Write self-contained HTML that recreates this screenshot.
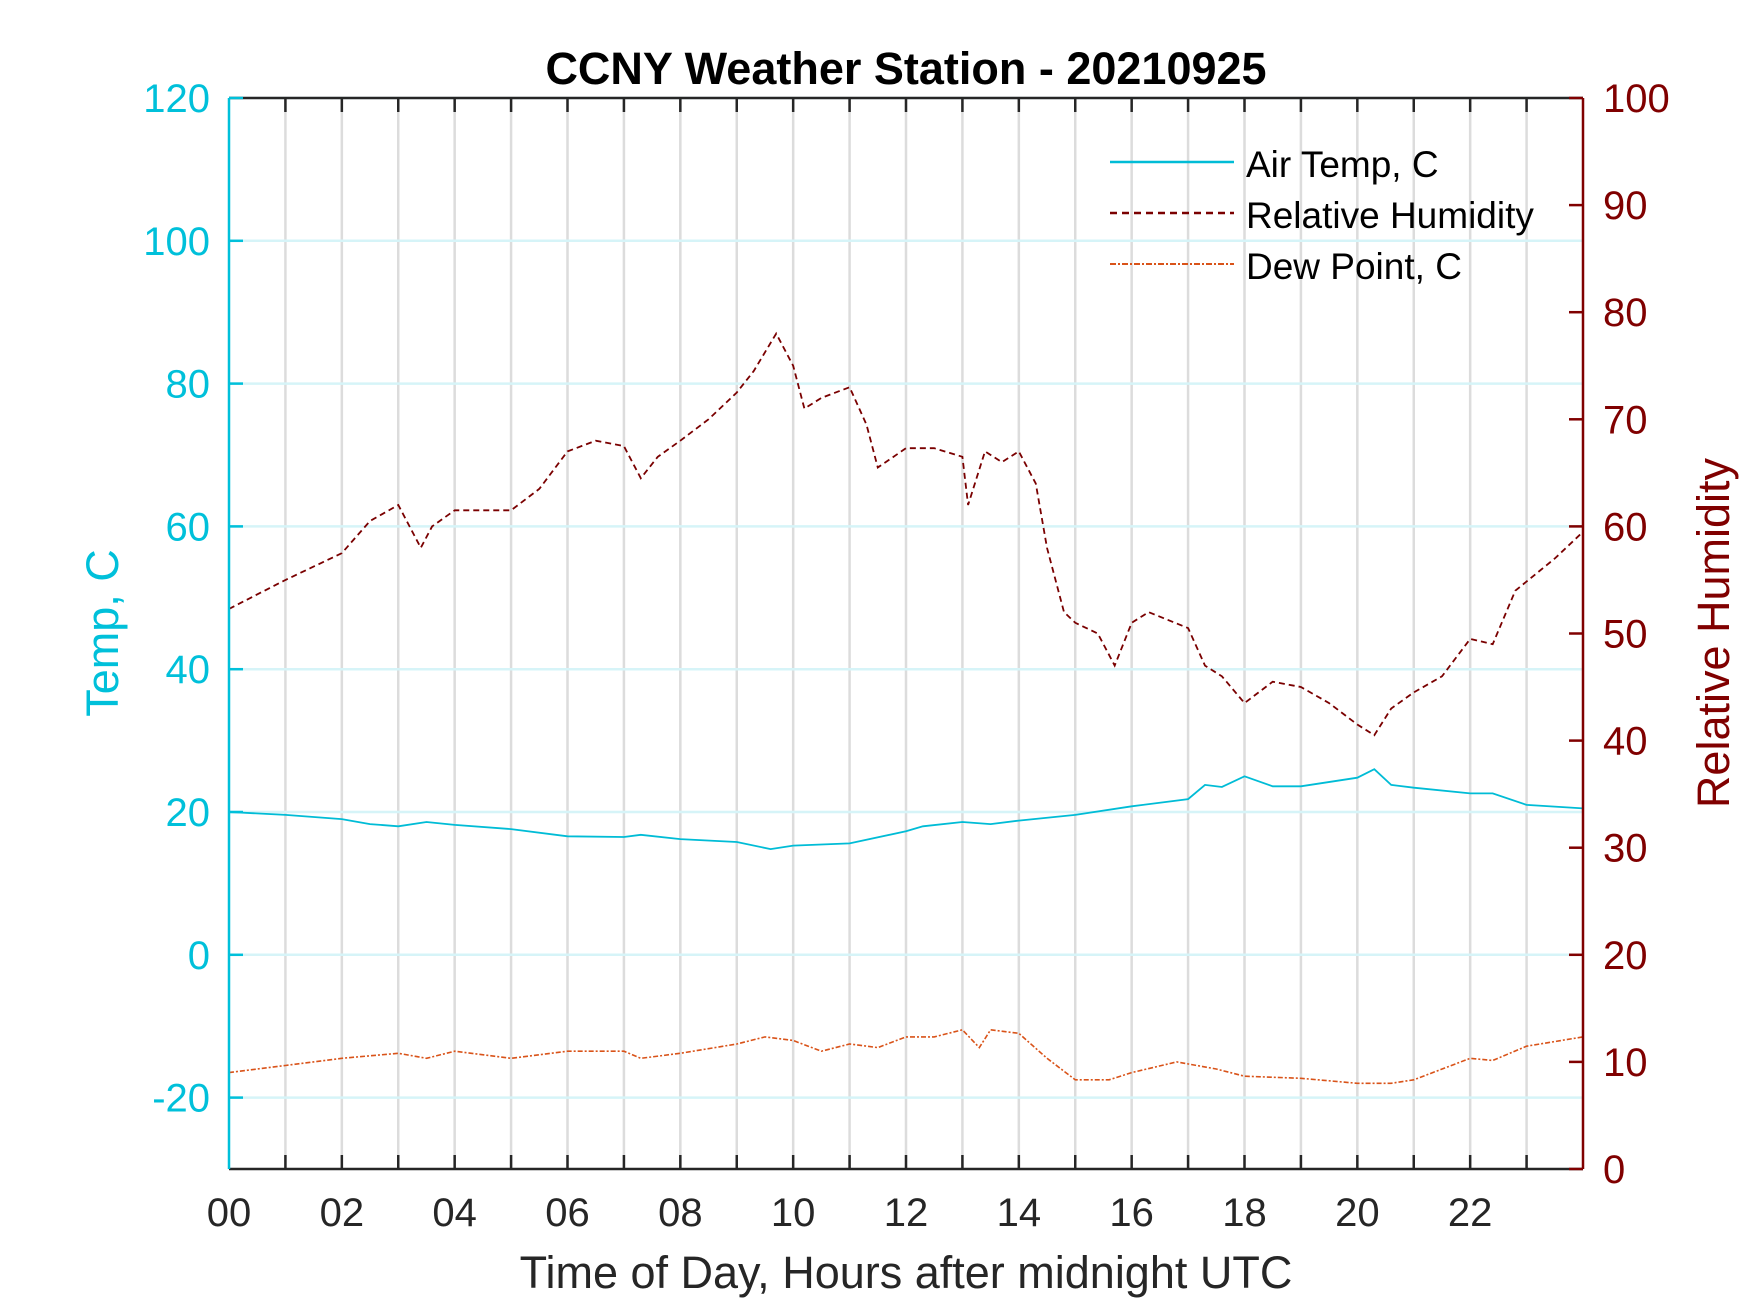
<!DOCTYPE html>
<html><head><meta charset="utf-8"><style>
body{margin:0;background:#fff;}
svg{display:block;font-family:"Liberation Sans",Arial,sans-serif;}
</style></head><body>
<svg id="chart" width="1750" height="1313" viewBox="0 0 1750 1313" xmlns="http://www.w3.org/2000/svg">
<rect width="1750" height="1313" fill="#fff"/>
<g id="grid"></g>
<g id="series"></g>
<g id="axes"></g>
<text x="906" y="84" text-anchor="middle" font-size="45" font-weight="bold" fill="#000">CCNY Weather Station - 20210925</text>
<text x="906" y="1288" text-anchor="middle" font-size="45" fill="#262626">Time of Day, Hours after midnight UTC</text>
<text transform="translate(118,633) rotate(-90)" text-anchor="middle" font-size="45" fill="#00c0da">Temp, C</text>
<text transform="translate(1729,633) rotate(-90)" text-anchor="middle" font-size="45" fill="#800000">Relative Humidity</text>
<g>
<line x1="1110" y1="162" x2="1234" y2="162" stroke="#00bcd6" stroke-width="2.5"/>
<text x="1246" y="177" font-size="37" fill="#000">Air Temp, C</text>
<line x1="1110" y1="213" x2="1234" y2="213" stroke="#7a0000" stroke-width="2.5" stroke-dasharray="7,5"/>
<text x="1246" y="228" font-size="37" fill="#000">Relative Humidity</text>
<line x1="1110" y1="264" x2="1234" y2="264" stroke="#d95319" stroke-width="2" stroke-dasharray="6,2,2,2"/>
<text x="1246" y="279" font-size="37" fill="#000">Dew Point, C</text>
</g>
</svg>
<script>
const tempHours=[0,1,2,2.5,3,3.5,4,5,6,7,7.3,8,9,9.6,10,11,12,12.3,13,13.5,14,15,16,17,17.3,17.6,18,18.5,19,20,20.3,20.6,21,22,22.4,23,24];
const tempValues=[20,19.6,19,18.3,18,18.6,18.2,17.6,16.6,16.5,16.8,16.2,15.8,14.8,15.3,15.6,17.3,18,18.6,18.3,18.8,19.6,20.8,21.8,23.8,23.5,25,23.6,23.6,24.8,26,23.8,23.4,22.6,22.6,21,20.5];
const dewHours=[0,1,2,3,3.5,4,5,6,7,7.3,8,9,9.5,10,10.5,11,11.5,12,12.5,13,13.3,13.5,14,14.5,15,15.6,16,16.8,17.5,18,19,20,20.6,21,22,22.4,23,24];
const dewValues=[-16.5,-15.5,-14.5,-13.8,-14.5,-13.5,-14.5,-13.5,-13.5,-14.5,-13.8,-12.5,-11.5,-12,-13.5,-12.5,-13,-11.5,-11.5,-10.5,-13,-10.5,-11,-14.5,-17.5,-17.5,-16.5,-15,-16,-17,-17.3,-18,-18,-17.5,-14.5,-14.8,-12.8,-11.5];
const rhHours=[0,1,2,2.5,3,3.4,3.6,4,5,5.5,6,6.5,7,7.3,7.6,8,8.5,9,9.3,9.7,10,10.2,10.5,11,11.3,11.5,12,12.5,13,13.1,13.4,13.7,14,14.3,14.5,14.8,15,15.4,15.7,16,16.3,17,17.3,17.6,18,18.5,19,19.5,20,20.3,20.6,21,21.5,22,22.4,22.8,23.5,24];
const rhValues=[52.3,55,57.5,60.5,62,58,60,61.5,61.5,63.5,67,68,67.5,64.5,66.5,68,70,72.5,74.5,78,75,71,72,73,69.5,65.5,67.3,67.3,66.5,62,67,66,67,64,58,52,51,50,47,51,52,50.5,47,46,43.5,45.5,45,43.5,41.5,40.5,43,44.5,46,49.5,49,54,57,59.5];
const xTickLabels=["00","02","04","06","08","10","12","14","16","18","20","22"];
const leftTicks=[120,100,80,60,40,20,0,-20];
const rightTicks=[100,90,80,70,60,50,40,30,20,10,0];

const L=229,R=1583,T=98,B=1169,NS="http://www.w3.org/2000/svg";
const xs=h=>L+(R-L)*h/24;
const yT=v=>B-(B-T)*(v+30)/150;
const yR=v=>B-(B-T)*v/100;
function mk(tag,attrs,parent){const e=document.createElementNS(NS,tag);for(const k in attrs)e.setAttribute(k,attrs[k]);parent.appendChild(e);return e;}
const grid=document.getElementById('grid'),series=document.getElementById('series'),axes=document.getElementById('axes');
for(let h=1;h<24;h++){const l=mk('line',{x1:xs(h),x2:xs(h),y1:T,y2:B,stroke:'#dcdcdc','stroke-width':2.5},grid);

}
leftTicks.forEach(v=>{const l=mk('line',{x1:L,x2:R,y1:yT(v),y2:yT(v),stroke:'#d6f4f8','stroke-width':2.5},grid);

});
function path(hs,vs,fy,attrs,name){const d=hs.map((h,i)=>(i?'L':'M')+xs(h).toFixed(1)+','+fy(vs[i]).toFixed(1)).join('');
const p=mk('path',Object.assign({d:d,fill:'none'},attrs),series);

}
path(tempHours,tempValues,yT,{stroke:'#00bcd6','stroke-width':1.8},'air-temp-line');
path(rhHours,rhValues,yR,{stroke:'#7a0000','stroke-width':1.8,'stroke-dasharray':'6,4'},'rh-line');
path(dewHours,dewValues,yT,{stroke:'#d95319','stroke-width':1.6,'stroke-dasharray':'5,2,2,2'},'dew-point-line');
mk('line',{x1:L,x2:R,y1:T,y2:T,stroke:'#262626','stroke-width':2.5},axes);
mk('line',{x1:L,x2:R,y1:B,y2:B,stroke:'#262626','stroke-width':2.5},axes);
mk('line',{x1:L,x2:L,y1:T,y2:B,stroke:'#00c0da','stroke-width':2.5},axes);
mk('line',{x1:R,x2:R,y1:T,y2:B,stroke:'#800000','stroke-width':2.5},axes);
for(let h=1;h<24;h++){mk('line',{x1:xs(h),x2:xs(h),y1:T,y2:T+14,stroke:'#262626','stroke-width':2.5},axes);
mk('line',{x1:xs(h),x2:xs(h),y1:B,y2:B-14,stroke:'#262626','stroke-width':2.5},axes);}
xTickLabels.forEach((s,i)=>{const t=mk('text',{x:xs(i*2),y:1226,'text-anchor':'middle','font-size':40,fill:'#262626'},axes);t.textContent=s;

});
leftTicks.forEach(v=>{mk('line',{x1:L,x2:L+14,y1:yT(v),y2:yT(v),stroke:'#00c0da','stroke-width':2.5},axes);
const t=mk('text',{x:210,y:yT(v)+14,'text-anchor':'end','font-size':40,fill:'#00c0da'},axes);t.textContent=v;

});
rightTicks.forEach(v=>{mk('line',{x1:R-14,x2:R,y1:yR(v),y2:yR(v),stroke:'#800000','stroke-width':2.5},axes);
const t=mk('text',{x:1603,y:yR(v)+14,'text-anchor':'start','font-size':40,fill:'#800000'},axes);t.textContent=v;

});
</script>
</body></html>
